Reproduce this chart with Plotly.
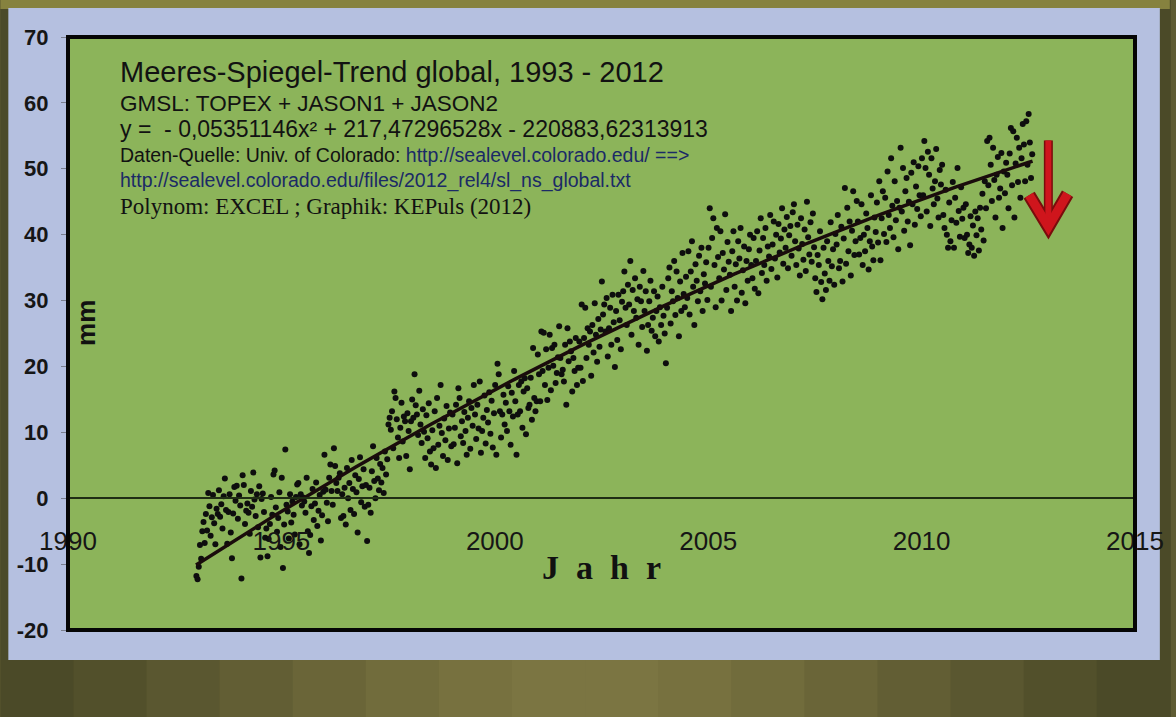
import numpy as np
import plotly.graph_objects as go

# ---------------- data ----------------
# GMSL values (mm), ~36 samples per year, first 18 = Jan-Jun, next 18 = Jul-Dec
sl_1993 = [-11.8, -12.3, -10.4, -7.1, -9.2, -5.0, -3.6, -6.8, -2.4, -4.9, 0.8, -1.2, -5.7, -2.9, 0.5, -3.8, -7.0, -1.6,
           -2.4, 1.2, -2.8, -0.9, -4.6, 0.3, 3.0, -1.8, -6.9, -2.1, 0.6, -5.2, -9.1, -2.3, 1.7, -0.4, 1.9, -3.1]
sl_1994 = [0.4, -1.1, -12.2, 3.5, 2.0, -3.9, -1.9, -0.8, -2.2, -5.4, 1.1, -1.3, 3.9, -0.2, -2.7, 0.6, -4.4, 1.8,
           -9.0, -0.1, 0.7, -2.1, -6.0, -4.6, -8.8, -6.2, -3.9, 0.2, -2.5, 3.6, 4.2, -1.4, -5.1, -3.0, 0.9, -7.4]
sl_1995 = [3.1, -10.6, -4.0, 7.4, -1.0, -2.0, -6.1, 0.6, -3.7, -0.5, -2.5, -5.5, 0.2, 2.1, 2.3, -7.0, 0.6, -1.1,
           0.1, -0.5, -2.2, 3.1, -5.0, -8.3, -5.6, -1.2, 1.4, -3.3, -0.8, 2.4, -4.2, -1.9, 0.5, -6.4, -2.6, 1.0]
sl_1996 = [6.6, 1.3, -0.7, -3.5, 3.1, 5.1, 1.1, -1.0, 7.6, 4.9, 2.3, 1.1, 3.1, 3.8, -3.0, 0.6, -2.7, 1.6,
           -4.0, 4.6, 0.0, 2.3, -1.8, 5.8, 1.4, -2.4, 3.5, 0.9, -5.2, 2.9, 6.2, -0.6, 1.8, 4.4, -1.3, 2.0]
sl_1997 = [-6.5, -1.0, 1.6, -2.2, 4.1, 7.9, 2.6, 0.0, 6.1, 3.0, 1.2, 5.2, 2.4, 4.6, 0.8, 7.1, 3.6, 5.9,
           11.2, 12.2, 10.4, 13.2, 7.6, 16.2, 15.2, 12.0, 9.2, 6.1, 10.7, 14.5, 8.6, 12.4, 11.7, 6.4, 12.9, 10.2]
sl_1998 = [4.4, 11.7, 15.0, 12.2, 18.8, 14.1, 12.7, 9.6, 16.3, 11.2, 8.4, 13.5, 10.1, 6.1, 12.6, 9.1, 14.4, 7.1,
           5.1, 10.3, 7.6, 13.2, 4.6, 15.2, 8.1, 11.0, 17.2, 9.9, 6.4, 12.1, 8.8, 14.0, 5.8, 10.6, 13.0, 7.9]
sl_1999 = [12.7, 8.2, 10.7, 14.2, 5.3, 16.7, 15.2, 9.4, 11.7, 8.4, 13.1, 10.2, 6.6, 12.2, 14.7, 7.5, 13.7, 11.0,
           17.2, 12.7, 9.0, 14.2, 10.6, 17.7, 6.9, 10.2, 12.2, 15.6, 8.3, 13.4, 11.5, 16.1, 9.8, 14.8, 7.7, 12.9]
sl_2000 = [17.2, 6.6, 20.4, 18.8, 13.2, 9.2, 12.7, 15.7, 11.2, 14.5, 10.2, 17.0, 13.2, 8.1, 16.0, 12.4, 19.3, 14.7,
           6.6, 12.7, 17.2, 13.2, 17.7, 10.7, 16.2, 18.2, 9.7, 16.7, 13.7, 14.2, 18.3, 11.9, 22.8, 15.2, 13.2, 14.7]
sl_2001 = [21.8, 18.8, 14.7, 25.3, 19.3, 25.1, 17.2, 22.6, 14.9, 19.8, 24.8, 16.4, 22.8, 20.1, 23.3, 17.5, 19.0, 21.4,
           26.1, 21.3, 18.8, 19.5, 17.7, 23.3, 14.2, 25.8, 20.8, 23.8, 22.3, 16.2, 21.3, 19.3, 24.3, 17.2, 19.8, 23.8]
sl_2002 = [19.8, 29.4, 17.8, 24.3, 28.9, 21.3, 25.8, 23.3, 25.3, 18.6, 26.3, 22.1, 29.6, 24.8, 20.7, 27.2, 23.0, 25.6,
           32.9, 27.9, 29.4, 25.3, 30.4, 21.5, 25.8, 28.9, 23.3, 30.9, 26.7, 19.9, 28.4, 24.0, 30.9, 27.0, 22.6, 29.8]
sl_2003 = [31.4, 34.4, 28.9, 26.3, 32.4, 29.4, 36.0, 24.8, 31.6, 28.4, 33.4, 27.4, 30.2, 23.3, 32.1, 29.9, 26.0, 34.5,
           28.4, 31.4, 22.4, 26.3, 29.9, 33.0, 25.4, 27.4, 31.4, 24.6, 28.4, 30.6, 23.8, 29.0, 26.3, 32.1, 27.7, 25.0]
sl_2004 = [20.5, 28.9, 33.4, 35.0, 26.5, 31.4, 29.9, 36.0, 27.8, 34.4, 30.4, 24.6, 32.9, 28.4, 37.2, 31.0, 29.0, 33.6,
           30.4, 37.5, 27.9, 34.4, 39.0, 32.1, 26.3, 35.5, 33.0, 29.9, 36.8, 31.4, 38.0, 28.4, 34.0, 32.6, 35.8, 30.1]
sl_2005 = [38.0, 44.0, 32.1, 39.5, 42.5, 35.4, 29.0, 41.0, 36.6, 33.4, 40.5, 30.0, 37.2, 34.7, 43.1, 31.6, 38.9, 35.9,
           33.9, 28.4, 37.5, 40.5, 32.1, 35.5, 30.0, 39.0, 36.4, 41.0, 31.2, 34.6, 38.2, 29.6, 36.0, 33.0, 37.8, 40.0]
sl_2006 = [35.4, 33.4, 39.5, 31.8, 36.0, 40.5, 31.1, 37.6, 42.5, 34.2, 39.5, 35.4, 41.0, 33.0, 38.2, 36.7, 43.0, 34.8,
           38.5, 42.0, 36.4, 40.0, 33.5, 41.6, 37.3, 39.4, 44.0, 35.6, 40.8, 38.0, 42.7, 34.9, 39.9, 41.3, 36.8, 43.4]
sl_2007 = [44.6, 39.0, 35.4, 41.5, 37.9, 33.8, 42.5, 38.6, 36.2, 40.8, 34.5, 45.0, 39.6, 37.0, 41.9, 35.9, 43.2, 38.1,
           33.4, 31.3, 36.9, 35.4, 40.5, 32.8, 30.2, 38.0, 34.1, 31.6, 39.0, 36.0, 33.0, 41.9, 35.2, 37.8, 32.4, 40.1]
sl_2008 = [38.5, 43.0, 34.9, 36.0, 41.2, 32.9, 39.4, 47.1, 35.6, 44.1, 37.5, 42.0, 33.8, 40.6, 46.6, 36.9, 39.0, 45.1,
           42.0, 37.0, 39.5, 44.6, 35.4, 40.0, 37.5, 43.2, 41.0, 34.7, 39.0, 46.0, 38.2, 36.1, 42.6, 40.4, 44.9, 38.8]
sl_2009 = [48.1, 36.1, 42.5, 46.6, 40.1, 45.6, 38.9, 49.6, 43.0, 41.0, 51.6, 44.4, 39.6, 48.1, 42.2, 45.1, 37.8, 44.1,
           53.2, 43.5, 50.1, 40.6, 46.6, 48.6, 42.0, 45.0, 38.4, 49.4, 44.6, 51.0, 41.5, 47.3, 43.9, 50.4, 46.0, 42.8]
sl_2010 = [51.6, 46.0, 54.2, 50.1, 43.5, 52.6, 49.1, 41.3, 51.6, 47.0, 44.6, 48.1, 53.0, 45.5, 42.6, 49.8, 47.6, 50.6,
           43.0, 41.0, 46.8, 40.0, 38.0, 44.9, 39.0, 42.2, 48.0, 38.0, 45.6, 41.8, 50.1, 43.6, 39.7, 47.2, 42.4, 44.1]
sl_2011 = [39.5, 44.6, 40.0, 37.2, 38.5, 42.8, 38.0, 41.4, 36.8, 43.5, 39.9, 42.5, 37.6, 44.1, 40.8, 46.2, 39.1, 48.1,
           44.0, 54.2, 47.5, 54.7, 50.6, 45.1, 53.2, 48.3, 42.6, 49.1, 51.8, 45.6, 47.0, 52.4, 41.0, 49.6, 46.3, 50.9]
sl_2012 = [49.1, 44.0, 52.3, 56.2, 47.5, 55.7, 42.6, 50.8, 54.7, 48.0, 53.2, 45.6, 51.6, 56.8, 53.7, 48.1, 57.2, 50.6,
           58.3, 54.0, 48.6, 52.2]

years = list(range(1993, 2013))
samples_per_year = 36

# Excel polynomial trend (coefficients as printed in the chart)
trend_coeffs = [-0.05351146, 217.47296528, -220883.62313913]
trend_start, trend_end = 1993.0, 2012.6

x_ticks = [1990, 1995, 2000, 2005, 2010, 2015]
y_ticks = [-20, -10, 0, 10, 20, 30, 40, 50, 60, 70]
y_tick_text = ["-20", "-10", "0", "10", "20", "30", "40", "50", "60", "70"]

# ---------------- build ----------------
series = [sl_1993, sl_1994, sl_1995, sl_1996, sl_1997, sl_1998, sl_1999, sl_2000, sl_2001, sl_2002,
          sl_2003, sl_2004, sl_2005, sl_2006, sl_2007, sl_2008, sl_2009, sl_2010, sl_2011, sl_2012]
xs, ys = [], []
for yr, vals in zip(years, series):
    for i, v in enumerate(vals):
        xs.append(yr + (i + 0.3) / samples_per_year)
        ys.append(v)

tx = np.linspace(trend_start, trend_end, 200)
ty = np.polyval(trend_coeffs, tx)

# pixel geometry of the plot area
W, H = 1176, 717
PL, PR, PT, PB = 68, 1141, 37, 630
PW, PH = PR - PL, PB - PT


def fx(px):
    return (px - PL) / PW


def fy(py):
    return (PB - py) / PH


fig = go.Figure()
fig.add_trace(go.Scatter(x=xs, y=ys, mode="markers",
                         marker=dict(size=6, color="#0e0e0e"), hoverinfo="skip", showlegend=False))
fig.add_trace(go.Scatter(x=tx, y=ty, mode="lines",
                         line=dict(color="#1a0c0c", width=3.5), hoverinfo="skip", showlegend=False))

shapes = []
# outer background bands (olive/brown gradient)
band_cols = ["#4b4a28", "#52502b", "#5a5730", "#625e34", "#6a6538", "#716c3c", "#77713f", "#7b7542",
             "#7b7542", "#77713f", "#716c3c", "#6a6538", "#625e34", "#5a5730", "#52502b", "#4b4a28"]
n = len(band_cols)
for i, c in enumerate(band_cols):
    shapes.append(dict(type="rect", xref="paper", yref="paper", layer="below",
                       x0=fx(i * W / n), x1=fx((i + 1) * W / n + 1), y0=fy(H), y1=fy(0),
                       fillcolor=c, line=dict(width=0)))
# top lighter strip
shapes.append(dict(type="rect", xref="paper", yref="paper", layer="below",
                   x0=fx(0), x1=fx(W), y0=fy(9), y1=fy(0), fillcolor="#86823f", line=dict(width=0)))
# lavender panel
shapes.append(dict(type="rect", xref="paper", yref="paper", layer="below",
                   x0=fx(8), x1=fx(1166), y0=fy(660), y1=fy(8), fillcolor="#b5c0e0", line=dict(width=0)))
# green plot area
shapes.append(dict(type="rect", xref="paper", yref="paper", layer="below",
                   x0=0, x1=1, y0=0, y1=1, fillcolor="#8cb45a", line=dict(width=0)))
# black frame
shapes.append(dict(type="rect", xref="paper", yref="paper", layer="above",
                   x0=0, x1=1, y0=0, y1=1, fillcolor="rgba(0,0,0,0)", line=dict(color="#050505", width=4)))
# red arrow (dark outline then red)
for col, wd_s, wd_h in [("#7a0c0c", 9, 13), ("#cf151c", 6, 9)]:
    shapes.append(dict(type="line", xref="x", yref="y", layer="above",
                       x0=2012.97, x1=2012.97, y0=54.3, y1=42.0, line=dict(color=col, width=wd_s)))
    shapes.append(dict(type="path", xref="x", yref="y", layer="above",
                       path="M 2012.52,46.0 L 2012.97,41.2 L 2013.42,46.2",
                       line=dict(color=col, width=wd_h)))

ann = []
TX = fx(118)
ann.append(dict(text="Meeres-Spiegel-Trend global, 1993 - 2012", x=TX, y=fy(72),
                font=dict(family="Liberation Sans, Arial", size=29, color="#121212")))
ann.append(dict(text="GMSL: TOPEX + JASON1 + JASON2", x=TX, y=fy(103),
                font=dict(family="Liberation Sans, Arial", size=22.5, color="#121212")))
ann.append(dict(text="y =  - 0,05351146x² + 217,47296528x - 220883,62313913", x=TX, y=fy(129),
                font=dict(family="Liberation Sans, Arial", size=23, color="#121212")))
ann.append(dict(text="Daten-Quelle: Univ. of Colorado: <span style='color:#1b2a66'>http://sealevel.colorado.edu/ ==></span>",
                x=TX, y=fy(155),
                font=dict(family="Liberation Sans, Arial", size=19.5, color="#121212")))
ann.append(dict(text="http://sealevel.colorado.edu/files/2012_rel4/sl_ns_global.txt", x=TX, y=fy(181),
                font=dict(family="Liberation Sans, Arial", size=19.5, color="#1b2a66")))
ann.append(dict(text="Polynom: EXCEL ; Graphik: KEPuls (2012)", x=TX, y=fy(207),
                font=dict(family="Liberation Serif, Times New Roman", size=23, color="#121212")))
for a in ann:
    a.update(xref="paper", yref="paper", xanchor="left", yanchor="middle", showarrow=False)

ann.append(dict(text="<b>J&nbsp;&nbsp;a&nbsp;&nbsp;h&nbsp;&nbsp;r</b>", x=fx(604), y=fy(567),
                xref="paper", yref="paper", xanchor="center", yanchor="middle", showarrow=False,
                font=dict(family="Liberation Serif, Times New Roman", size=34, color="#111111")))
ann.append(dict(text="<b>mm</b>", x=fx(86), y=fy(323), textangle=-90,
                xref="paper", yref="paper", xanchor="center", yanchor="middle", showarrow=False,
                font=dict(family="Liberation Sans, Arial", size=26, color="#111111")))

fig.update_layout(
    width=W, height=H,
    margin=dict(l=PL, r=W - PR, t=PT, b=H - PB, pad=0),
    paper_bgcolor="#5f5c33",
    plot_bgcolor="rgba(0,0,0,0)",
    shapes=shapes,
    annotations=ann,
    showlegend=False,
    xaxis=dict(range=[1990, 2015], tickvals=x_ticks, ticktext=[str(t) for t in x_ticks],
               showgrid=False, zeroline=False,
               anchor="free", position=(0 - (-20)) / 90,
               showline=True, linecolor="#1f2d14", linewidth=1.5,
               ticks="outside", ticklen=20, tickcolor="rgba(0,0,0,0)",
               tickfont=dict(family="Liberation Sans, Arial", size=26, color="#161616")),
    yaxis=dict(range=[-20, 70], tickvals=y_ticks, ticktext=y_tick_text,
               showgrid=False, zeroline=False,
               showline=False, ticks="outside", ticklen=6, tickcolor="#7a7f8f", tickwidth=1,
               ticklabelstandoff=8,
               tickfont=dict(family="Liberation Sans, Arial", size=22, color="#161616", weight="bold")),
)

fig.write_html("out.html", config={"displayModeBar": False},
               post_script="document.body.style.margin='0';document.body.style.overflow='hidden';")
